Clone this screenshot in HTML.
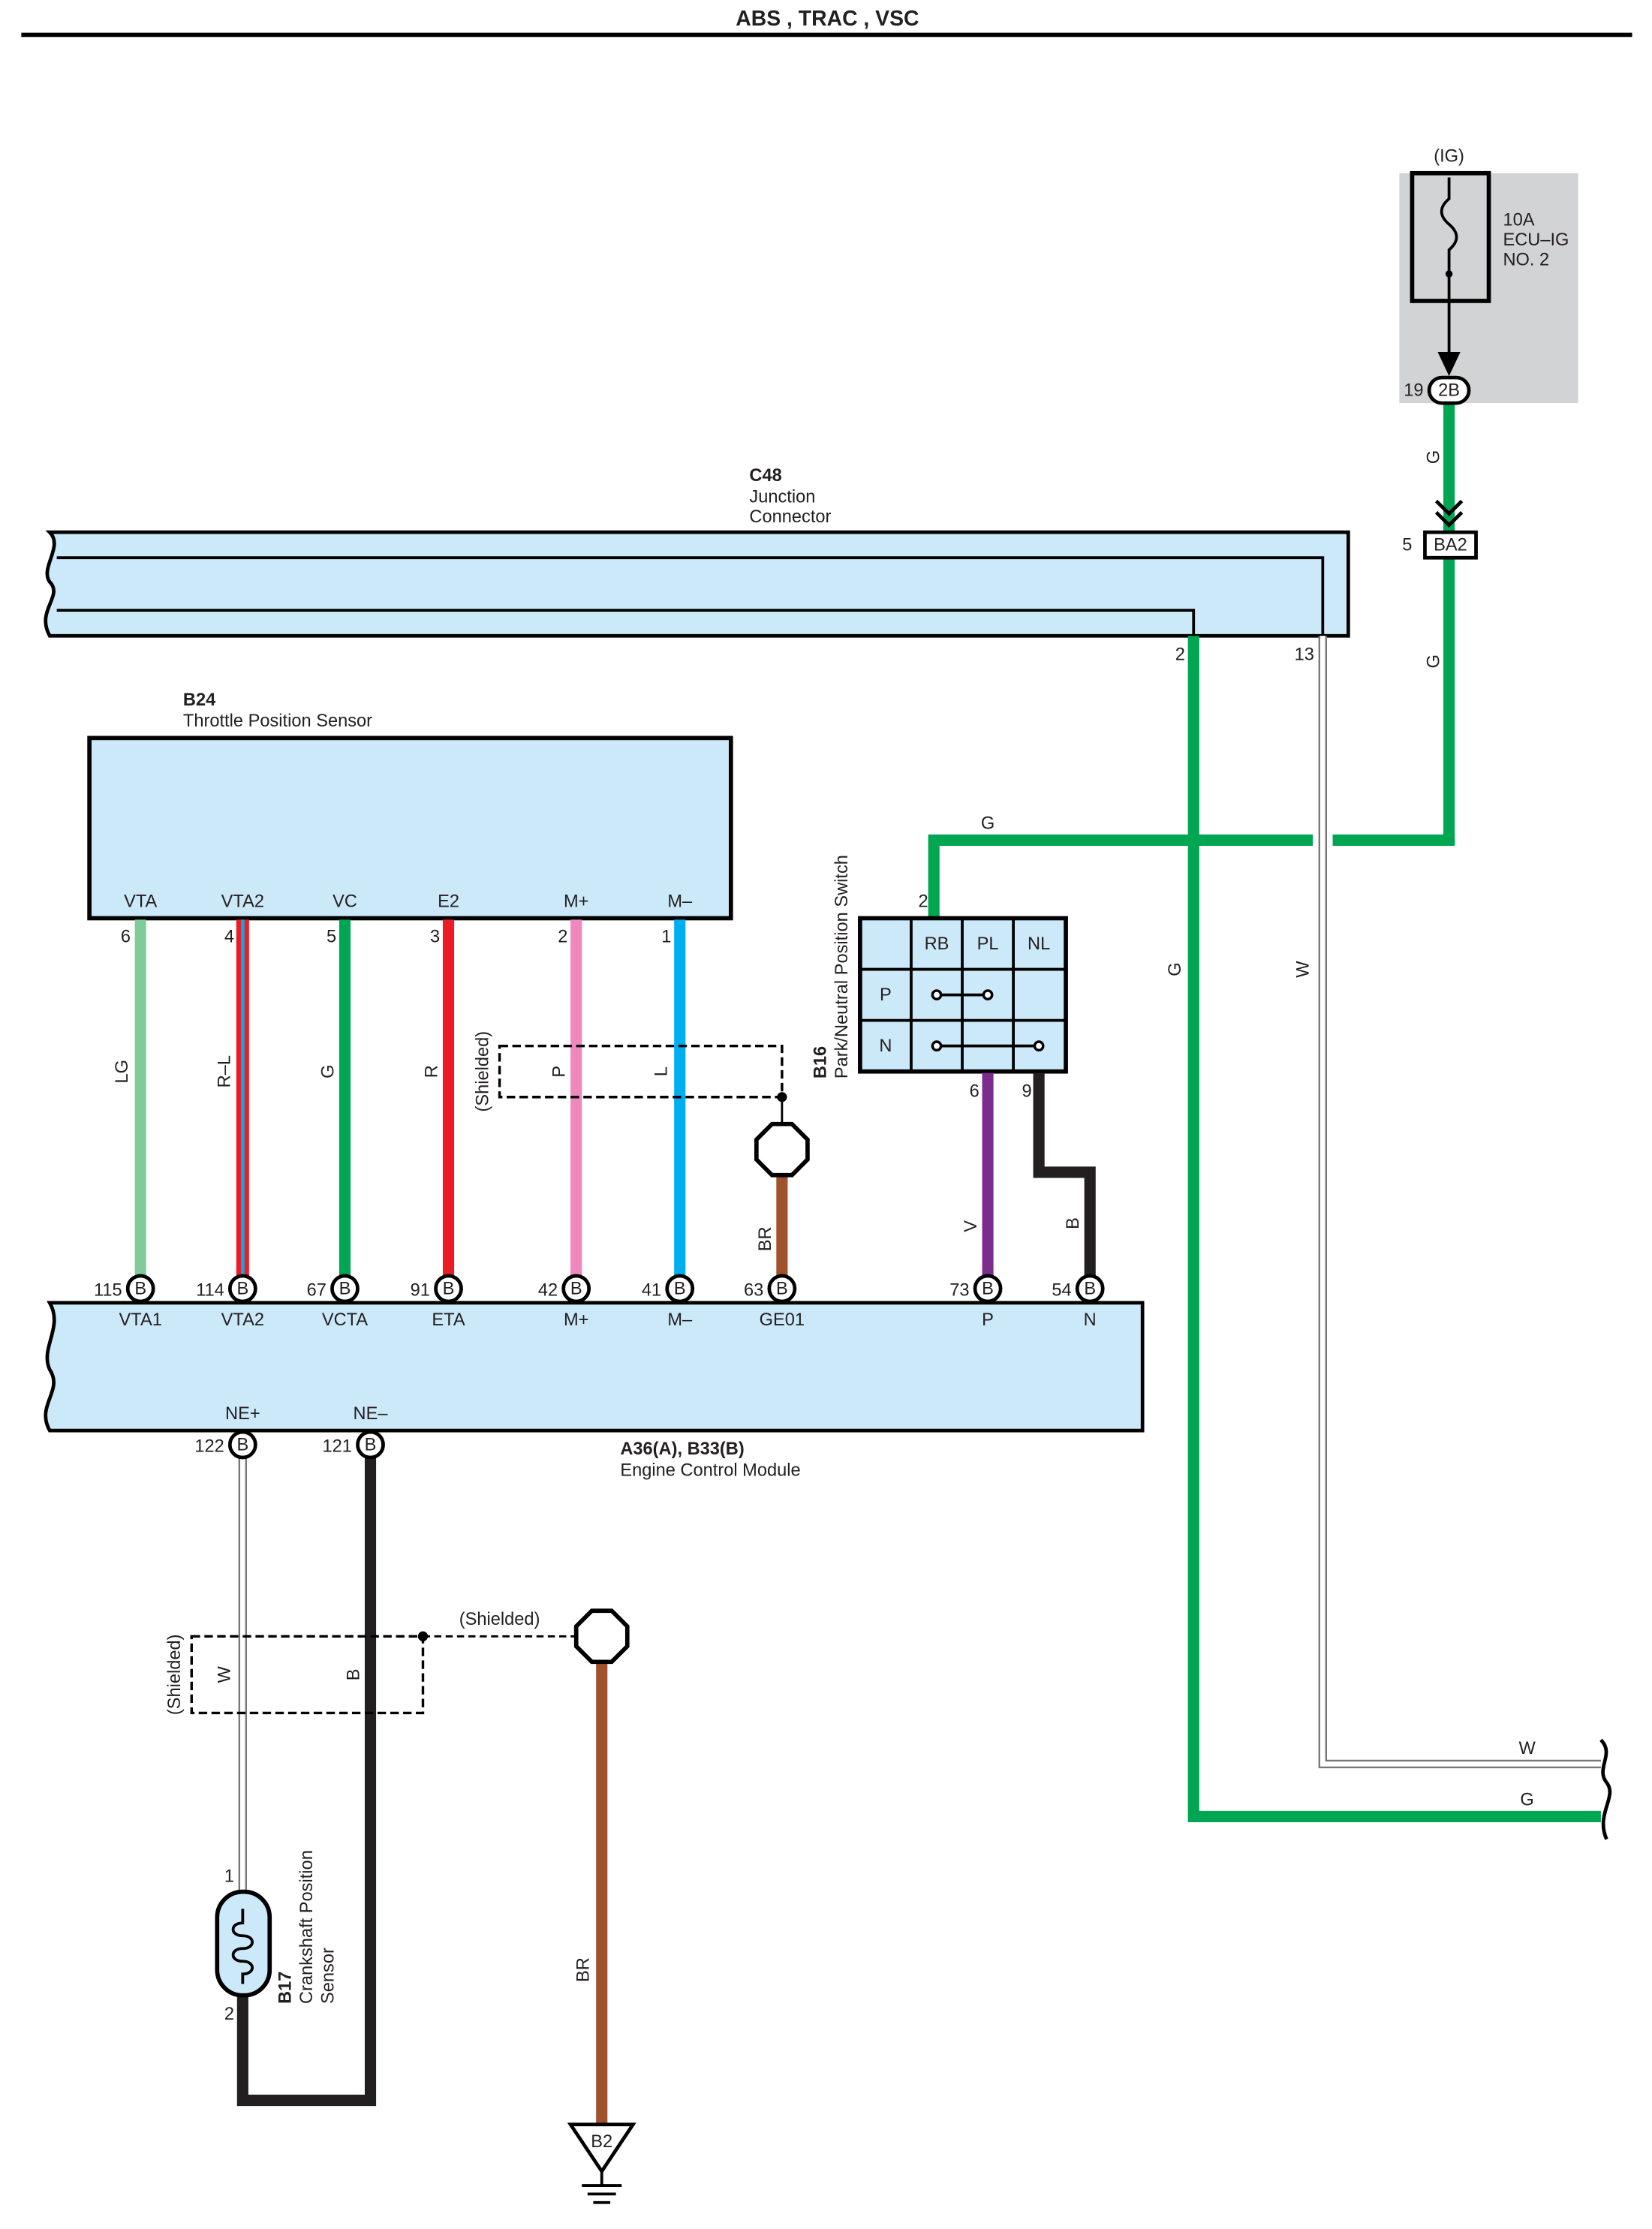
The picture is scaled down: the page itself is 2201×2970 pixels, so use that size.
<!DOCTYPE html>
<html><head><meta charset="utf-8"><style>
html,body{margin:0;padding:0;background:#fff}
svg{display:block}
text{font-family:"Liberation Sans",sans-serif;font-size:12.5px;fill:#231f20}
.b{font-weight:bold}
</style></head><body>
<svg width="2201" height="2970" viewBox="0 0 1164 1570.6" xmlns="http://www.w3.org/2000/svg">
<rect width="1164" height="1571" fill="#fff"/>
<text x="583" y="18" text-anchor="middle" class="b" style="font-size:15px">ABS , TRAC , VSC</text>
<line x1="15" y1="24.5" x2="1150" y2="24.5" stroke="#000" stroke-width="3"/>

<!-- fuse block -->
<rect x="986" y="122" width="126" height="162" fill="#d1d3d4"/>
<text x="1021" y="114" text-anchor="middle">(IG)</text>
<rect x="995" y="122" width="54" height="90" fill="none" stroke="#000" stroke-width="3"/>
<path d="M1021 125 V140 C1014 146,1014 152,1021 158 C1028 164,1028 170,1021 176 V250" fill="none" stroke="#000" stroke-width="2"/>
<circle cx="1021" cy="193" r="2.5" fill="#000"/>
<path d="M1013 248 L1021 265 L1029 248 Z" fill="#000"/>
<text x="1059" y="159">10A</text><text x="1059" y="173">ECU–IG</text><text x="1059" y="187">NO. 2</text>
<!-- green right wire -->
<line x1="1021" y1="285" x2="1021" y2="596" stroke="#00a651" stroke-width="8"/>
<rect x="1007" y="266" width="28" height="18" rx="9" fill="#fff" stroke="#000" stroke-width="2.5"/>
<text x="1021" y="279" text-anchor="middle">2B</text>
<text x="1003" y="279" text-anchor="end">19</text>
<text transform="translate(1014,322) rotate(-90)" text-anchor="middle">G</text>
<text transform="translate(1014,466) rotate(-90)" text-anchor="middle">G</text>
<path d="M1012 353 L1021 362 L1030 353 M1012 361 L1021 370 L1030 361" fill="none" stroke="#000" stroke-width="2.5"/>
<rect x="1004" y="375" width="36" height="18" fill="#fff" stroke="#000" stroke-width="2.5"/>
<text x="1022" y="388" text-anchor="middle">BA2</text>
<text x="995" y="388" text-anchor="end">5</text>

<!-- C48 -->
<text x="528" y="339" class="b">C48</text><text x="528" y="354">Junction</text><text x="528" y="368">Connector</text>
<path d="M35 375 H950 V448 H35 C25 430,45 420,35 410 C28 400,45 385,35 375 Z" fill="#cce9f9" stroke="#000" stroke-width="2.5"/>
<path d="M40 393 H932 V448 M40 430 H841 V448" fill="none" stroke="#000" stroke-width="2"/>
<text x="835" y="465" text-anchor="end">2</text>
<text x="926" y="465" text-anchor="end">13</text>

<!-- G and W long wires -->
<path d="M841 448 V1280 H1128" fill="none" stroke="#00a651" stroke-width="8"/>
<path d="M932 448 V1243 H1128" fill="none" stroke="#777" stroke-width="6"/>
<path d="M932 448 V1243 H1128" fill="none" stroke="#fff" stroke-width="3.5"/>
<text transform="translate(832,683) rotate(-90)" text-anchor="middle">G</text>
<text transform="translate(922,683) rotate(-90)" text-anchor="middle">W</text>
<text x="1076" y="1236" text-anchor="middle">W</text>
<text x="1076" y="1272" text-anchor="middle">G</text>
<path d="M1128 1226 C1138 1236,1124 1246,1132 1256 C1140 1266,1124 1278,1132 1296" fill="none" stroke="#000" stroke-width="2.5"/>

<!-- green horizontal -->
<path d="M658 648 V592 H925" fill="none" stroke="#00a651" stroke-width="8"/>
<line x1="939" y1="592" x2="1025" y2="592" stroke="#00a651" stroke-width="8"/>
<text x="696" y="584" text-anchor="middle">G</text>
<text x="654" y="639" text-anchor="end">2</text>

<!-- B24 -->
<text x="129" y="497" class="b">B24</text><text x="129" y="512">Throttle Position Sensor</text>
<rect x="63" y="520" width="452" height="127" fill="#cce9f9" stroke="#000" stroke-width="3"/>
<g text-anchor="middle">
<text x="99" y="639">VTA</text><text x="171" y="639">VTA2</text><text x="243" y="639">VC</text><text x="316" y="639">E2</text><text x="406" y="639">M+</text><text x="479" y="639">M–</text>
</g>
<g text-anchor="end">
<text x="92" y="664">6</text><text x="165" y="664">4</text><text x="237" y="664">5</text><text x="310" y="664">3</text><text x="400" y="664">2</text><text x="473" y="664">1</text>
</g>
<line x1="99" y1="648" x2="99" y2="900" stroke="#7fcc9a" stroke-width="8"/>
<line x1="171" y1="648" x2="171" y2="900" stroke="#ed1c24" stroke-width="9"/>
<line x1="171" y1="648" x2="171" y2="900" stroke="#00aeef" stroke-width="2.5"/>
<line x1="243" y1="648" x2="243" y2="900" stroke="#00a651" stroke-width="8"/>
<line x1="316" y1="648" x2="316" y2="900" stroke="#ed1c24" stroke-width="8"/>
<line x1="406" y1="648" x2="406" y2="900" stroke="#f088bd" stroke-width="8"/>
<line x1="479" y1="648" x2="479" y2="900" stroke="#00aeef" stroke-width="8"/>
<g text-anchor="middle">
<text transform="translate(90,755) rotate(-90)">LG</text>
<text transform="translate(162,755) rotate(-90)">R–L</text>
<text transform="translate(235,755) rotate(-90)">G</text>
<text transform="translate(308,755) rotate(-90)">R</text>
<text transform="translate(398,755) rotate(-90)">P</text>
<text transform="translate(470,755) rotate(-90)">L</text>
<text transform="translate(344,755) rotate(-90)">(Shielded)</text>
<text transform="translate(543,873) rotate(-90)">BR</text>
</g>
<rect x="352" y="737" width="199" height="36" fill="none" stroke="#000" stroke-width="1.8" stroke-dasharray="6,3"/>
<circle cx="551" cy="773" r="3.5" fill="#000"/>
<line x1="551" y1="773" x2="551" y2="792" stroke="#000" stroke-width="1.5"/>
<line x1="551" y1="826" x2="551" y2="900" stroke="#a0522d" stroke-width="8"/>
<polygon points="544,792 558,792 569,803 569,817 558,828 544,828 533,817 533,803" fill="#fff" stroke="#000" stroke-width="3"/>

<!-- B16 -->
<rect x="606" y="647" width="145" height="108" fill="#cce9f9" stroke="#000" stroke-width="3"/>
<path d="M642 647 V755 M678 647 V755 M714 647 V755 M606 683 H751 M606 719 H751" stroke="#000" stroke-width="2"/>
<g text-anchor="middle">
<text x="660" y="669">RB</text><text x="696" y="669">PL</text><text x="732" y="669">NL</text>
<text x="624" y="705">P</text><text x="624" y="741">N</text>
</g>
<path d="M660 701 H696 M660 737 H732" stroke="#000" stroke-width="2"/>
<g fill="#fff" stroke="#000" stroke-width="1.8">
<circle cx="660" cy="701" r="3"/><circle cx="696" cy="701" r="3"/><circle cx="660" cy="737" r="3"/><circle cx="732" cy="737" r="3"/>
</g>
<text transform="translate(582,760) rotate(-90)" class="b">B16</text>
<text transform="translate(597,760) rotate(-90)">Park/Neutral Position Switch</text>
<text x="690" y="773" text-anchor="end">6</text>
<text x="727" y="773" text-anchor="end">9</text>
<line x1="696" y1="756" x2="696" y2="900" stroke="#7b2d8e" stroke-width="8"/>
<path d="M732 756 V826 H768 V900" fill="none" stroke="#231f20" stroke-width="8"/>
<text transform="translate(688,864) rotate(-90)" text-anchor="middle">V</text>
<text transform="translate(760,862) rotate(-90)" text-anchor="middle">B</text>

<!-- ECM -->
<path d="M35 918 H805 V1008 H35 C25 990,45 980,35 965 C28 950,45 935,35 918 Z" fill="#cce9f9" stroke="#000" stroke-width="2.5"/>
<g text-anchor="middle">
<text x="99" y="934">VTA1</text><text x="171" y="934">VTA2</text><text x="243" y="934">VCTA</text><text x="316" y="934">ETA</text><text x="406" y="934">M+</text><text x="479" y="934">M–</text><text x="551" y="934">GE01</text><text x="696" y="934">P</text><text x="768" y="934">N</text>
<text x="171" y="1000">NE+</text><text x="261" y="1000">NE–</text>
</g>
<g fill="#fff" stroke="#000" stroke-width="2.5">
<circle cx="99" cy="908" r="9"/><circle cx="171" cy="908" r="9"/><circle cx="243" cy="908" r="9"/><circle cx="316" cy="908" r="9"/><circle cx="406" cy="908" r="9"/><circle cx="479" cy="908" r="9"/><circle cx="551" cy="908" r="9"/><circle cx="696" cy="908" r="9"/><circle cx="768" cy="908" r="9"/>
</g>
<g text-anchor="middle" style="font-size:11px">
<text x="99" y="912">B</text><text x="171" y="912">B</text><text x="243" y="912">B</text><text x="316" y="912">B</text><text x="406" y="912">B</text><text x="479" y="912">B</text><text x="551" y="912">B</text><text x="696" y="912">B</text><text x="768" y="912">B</text>
</g>
<g text-anchor="end">
<text x="86" y="913">115</text><text x="158" y="913">114</text><text x="230" y="913">67</text><text x="303" y="913">91</text><text x="393" y="913">42</text><text x="466" y="913">41</text><text x="538" y="913">63</text><text x="683" y="913">73</text><text x="755" y="913">54</text>
<text x="158" y="1023">122</text><text x="248" y="1023">121</text>
</g>
<text x="437" y="1025" class="b">A36(A), B33(B)</text>
<text x="437" y="1040">Engine Control Module</text>

<!-- crank wires -->
<line x1="171" y1="1027" x2="171" y2="1335" stroke="#777" stroke-width="6"/>
<line x1="171" y1="1027" x2="171" y2="1335" stroke="#fff" stroke-width="3.5"/>
<path d="M261 1027 V1480 H171 V1405" fill="none" stroke="#231f20" stroke-width="8"/>
<g fill="#fff" stroke="#000" stroke-width="2.5"><circle cx="171" cy="1018" r="9"/><circle cx="261" cy="1018" r="9"/></g>
<g text-anchor="middle" style="font-size:11px"><text x="171" y="1022">B</text><text x="261" y="1022">B</text></g>

<rect x="135" y="1153" width="163" height="54" fill="none" stroke="#000" stroke-width="1.8" stroke-dasharray="6,3"/>
<line x1="298" y1="1153" x2="405" y2="1153" stroke="#000" stroke-width="1.5" stroke-dasharray="5,3"/>
<circle cx="298" cy="1153" r="3.5" fill="#000"/>
<text x="352" y="1145" text-anchor="middle">(Shielded)</text>
<g text-anchor="middle">
<text transform="translate(127,1180) rotate(-90)">(Shielded)</text>
<text transform="translate(162,1180) rotate(-90)">W</text>
<text transform="translate(253,1180) rotate(-90)">B</text>
<text transform="translate(415,1388) rotate(-90)">BR</text>
</g>
<line x1="424" y1="1170" x2="424" y2="1498" stroke="#a0522d" stroke-width="8"/>
<polygon points="417,1135 431,1135 442,1146 442,1160 431,1171 417,1171 406,1160 406,1146" fill="#fff" stroke="#000" stroke-width="3"/>
<polygon points="402,1497 446,1497 424,1530" fill="#fff" stroke="#000" stroke-width="2.5"/>
<text x="424" y="1513" text-anchor="middle">B2</text>
<path d="M424 1530 V1540 M410 1540 H438 M414 1546 H434 M418 1552 H430" stroke="#000" stroke-width="2"/>

<!-- B17 sensor -->
<rect x="153" y="1333" width="37" height="73" rx="18" fill="#cce9f9" stroke="#000" stroke-width="3"/>
<path d="M171 1345 V1355 C162 1355,162 1364,171 1364 C180 1364,180 1373,171 1373 C162 1373,162 1382,171 1382 C180 1382,180 1391,171 1391 V1398" fill="none" stroke="#000" stroke-width="2"/>
<text x="165" y="1326" text-anchor="end">1</text>
<text x="165" y="1423" text-anchor="end">2</text>
<text transform="translate(205,1412) rotate(-90)" class="b">B17</text>
<text transform="translate(220,1412) rotate(-90)">Crankshaft Position</text>
<text transform="translate(235,1412) rotate(-90)">Sensor</text>
</svg>
</body></html>
